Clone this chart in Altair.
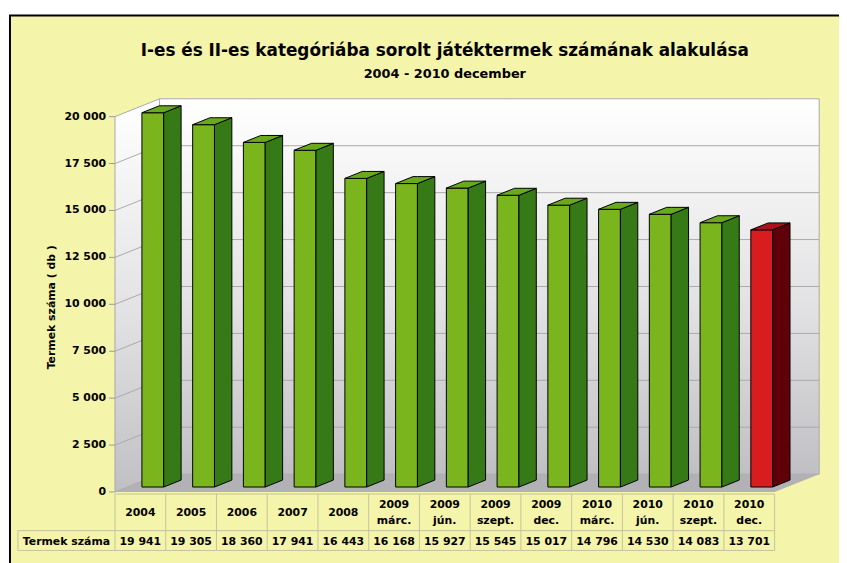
import altair as alt
import pandas as pd

# ---------------- data ----------------
categories = ["2004", "2005", "2006", "2007", "2008",
              "2009\nmárc.", "2009\njún.", "2009\nszept.", "2009\ndec.",
              "2010\nmárc.", "2010\njún.", "2010\nszept.", "2010\ndec."]
values = [19941, 19305, 18360, 17941, 16443, 16168, 15927, 15545, 15017,
          14796, 14530, 14083, 13701]
highlight = [False] * 12 + [True]
row_label = "Termek száma"
y_ticks = [0, 2500, 5000, 7500, 10000, 12500, 15000, 17500, 20000]
title_text = "I-es és II-es kategóriába sorolt játéktermek számának alakulása"
subtitle_text = "2004 - 2010 december"
y_title = "Termek száma ( db )"

# ---------------- layout / style ----------------
W, H = 666, 379
N = len(categories)
YMAX = 20000
DX = 45 / (W / N)          # depth offset in x units
DY = 18 / H * YMAX         # depth offset in y units
F1, F2 = 0.28, 0.67        # bar depth span (fraction of total depth)
BW = 0.43                  # bar width in band units
FONT = "DejaVu Sans"
BG = "#F4F4AA"
GREEN = dict(front="#7AB51E", side="#357A17", top="#69A91C")
RED = dict(front="#D81C1F", side="#600008", top="#A8121A")
GRID = "#a9a9ad"
TABLE_LINE = "#c4c29c"
LEFT_CELL = -98 * N / W


def fmt(v):
    return f"{v:,}".replace(",", " ")


xs = alt.Scale(domain=[0, N], nice=False, zero=False)
ys = alt.Scale(domain=[0, YMAX], nice=False, zero=False)


def X(f):
    return alt.X(f, type="quantitative", scale=xs, axis=None)


def Y(f):
    return alt.Y(f, type="quantitative", scale=ys, axis=None, stack=None)


# ---------------- frames ----------------
fronts, polys = [], []
for i, (v, hl) in enumerate(zip(values, highlight)):
    pal = RED if hl else GREEN
    xl = i + 0.5 - BW / 2 + F1 * DX
    xr = xl + BW
    ddx = (F2 - F1) * DX
    y0, y1 = F1 * DY, F2 * DY
    fronts.append(dict(x=xl, x2=xr, y=y0, y2=v + y0, fill=pal["front"]))
    k = f"s{i}"
    polys += [dict(key=k, x=xr, y=v + y0, y2=y0, fill=pal["side"]),
              dict(key=k, x=xr + ddx, y=v + y1, y2=y1, fill=pal["side"])]
    k = f"t{i}"
    polys += [dict(key=k, x=xl, y=v + y0, y2=v + y0, fill=pal["top"]),
              dict(key=k, x=xl + ddx, y=v + y1, y2=v + y0, fill=pal["top"]),
              dict(key=k, x=xr, y=v + y1, y2=v + y0, fill=pal["top"]),
              dict(key=k, x=xr + ddx, y=v + y1, y2=v + y1, fill=pal["top"])]
fronts = pd.DataFrame(fronts)
polys = pd.DataFrame(polys)

wall_grad = alt.Gradient(
    gradient="linear",
    stops=[alt.GradientStop(color="#ffffff", offset=0),
           alt.GradientStop(color="#e2e2e4", offset=0.55),
           alt.GradientStop(color="#c0c0c4", offset=1)],
    x1=0, x2=0, y1=0, y2=1)

back = pd.DataFrame([dict(x=DX, x2=N + DX, y=DY, y2=YMAX + DY)])
side_wall = pd.DataFrame([dict(x=0, y=YMAX, y2=0),
                          dict(x=DX, y=YMAX + DY, y2=DY)])
floor = pd.DataFrame([dict(x=0, y=0, y2=0),
                      dict(x=DX, y=DY, y2=0),
                      dict(x=N, y=DY, y2=0),
                      dict(x=N + DX, y=DY, y2=DY)])

grid_rows = []
for g in y_ticks:
    grid_rows.append(dict(x=DX, x2=N + DX, y=g + DY, y2=g + DY))
    grid_rows.append(dict(x=0, x2=DX, y=g, y2=g + DY))
grid_rows.append(dict(x=N + DX, x2=N + DX, y=DY, y2=YMAX + DY))
grid_rows.append(dict(x=DX, x2=DX, y=DY, y2=YMAX + DY))
grid_rows.append(dict(x=0, x2=0, y=0, y2=YMAX))
grid = pd.DataFrame(grid_rows)

ticks = pd.DataFrame(dict(t=y_ticks, label=[fmt(t) for t in y_ticks]))
header = pd.DataFrame(dict(x=[i + 0.5 for i in range(N)], label=categories,
                           two=[("\n" in c) for c in categories]))
vals = pd.DataFrame(dict(x=[i + 0.5 for i in range(N)], label=[fmt(v) for v in values]))
rowlab = pd.DataFrame(dict(x=[LEFT_CELL / 2], label=[row_label]))
vlines = pd.DataFrame(dict(x=list(range(N + 1))))
hl_top = pd.DataFrame(dict(x=[0], x2=[N]))
hl_rows = pd.DataFrame(dict(x=[LEFT_CELL], x2=[N]))
one = pd.DataFrame(dict(a=[0]))

# ---------------- layers ----------------
frame = alt.Chart(one).mark_rect(fill=BG, stroke="black", strokeWidth=2).encode(
    x=alt.value(-106), x2=alt.value(W + 200), y=alt.value(-102), y2=alt.value(H + 200))

floor_l = alt.Chart(floor).mark_area(fill="#b2b2b6", interpolate="linear").encode(
    x=X("x"), y=Y("y"), y2="y2")

side_l = alt.Chart(side_wall).mark_area(fill=wall_grad, interpolate="linear").encode(
    x=X("x"), y=Y("y"), y2="y2")

back_l = alt.Chart(back).mark_rect(fill=wall_grad).encode(
    x=X("x"), x2="x2", y=Y("y"), y2="y2")

grid_l = alt.Chart(grid).mark_rule(color=GRID, strokeWidth=1).encode(
    x=X("x"), x2="x2", y=Y("y"), y2="y2")

tick_l = alt.Chart(ticks).mark_rule(color="#999999").encode(
    x=alt.value(-6), x2=alt.value(0), y=Y("t"))

ylab_l = alt.Chart(ticks).mark_text(
    font=FONT, fontSize=11, fontWeight="bold", color="black",
    align="right", baseline="middle").encode(
    x=alt.value(-9), y=Y("t"), text="label:N")

ytitle_l = alt.Chart(pd.DataFrame(dict(t=[y_title]))).mark_text(
    font=FONT, fontSize=11, fontWeight="bold", color="black", angle=270,
    align="center", baseline="middle").encode(
    x=alt.value(-64), y=alt.value(H / 2 + 3), text="t:N")

front_l = alt.Chart(fronts).mark_rect(stroke="black", strokeWidth=1).encode(
    x=X("x"), x2="x2", y=Y("y"), y2="y2", fill=alt.Fill("fill:N", scale=None))

poly_l = alt.Chart(polys).mark_area(stroke="black", strokeWidth=1, interpolate="linear").encode(
    x=X("x"), y=Y("y"), y2="y2", detail="key:N",
    fill=alt.Fill("fill:N", scale=None))

vline_l = alt.Chart(vlines).mark_rule(color=TABLE_LINE).encode(
    x=X("x"), y=alt.value(H + 2), y2=alt.value(H + 59))
lcell_l = alt.Chart(one).mark_rule(color=TABLE_LINE).encode(
    x=alt.value(-98), y=alt.value(H + 39), y2=alt.value(H + 59))
htop_l = alt.Chart(hl_top).mark_rule(color=TABLE_LINE).encode(
    x=X("x"), x2="x2", y=alt.value(H + 2))
hmid_l = alt.Chart(hl_rows).mark_rule(color=TABLE_LINE).encode(
    x=X("x"), x2="x2", y=alt.value(H + 39))
hbot_l = alt.Chart(hl_rows).mark_rule(color=TABLE_LINE).encode(
    x=X("x"), x2="x2", y=alt.value(H + 59))

txt = dict(font=FONT, fontSize=11, fontWeight="bold", color="black",
           align="center", baseline="middle")
header1_l = alt.Chart(header).transform_filter("!datum.two").mark_text(**txt).encode(
    x=X("x"), y=alt.value(H + 21), text="label:N")
header2_l = alt.Chart(header).transform_filter("datum.two").mark_text(
    lineBreak="\n", lineHeight=16, **txt).encode(
    x=X("x"), y=alt.value(H + 13), text="label:N")
vals_l = alt.Chart(vals).mark_text(**txt).encode(
    x=X("x"), y=alt.value(H + 50), text="label:N")
rowlab_l = alt.Chart(rowlab).mark_text(**txt).encode(
    x=X("x"), y=alt.value(H + 50), text="label:N")

title_l = alt.Chart(pd.DataFrame(dict(t=[title_text]))).mark_text(
    font=FONT, fontSize=17, fontWeight="bold", color="black", align="center",
    baseline="middle").encode(x=alt.value(W / 2), y=alt.value(-66), text="t:N")
sub_l = alt.Chart(pd.DataFrame(dict(t=[subtitle_text]))).mark_text(
    font=FONT, fontSize=13, fontWeight="bold", color="black", align="center",
    baseline="middle").encode(x=alt.value(W / 2), y=alt.value(-43), text="t:N")

chart = alt.layer(
    frame, floor_l, side_l, back_l, grid_l, tick_l, ylab_l, ytitle_l,
    front_l, poly_l,
    vline_l, lcell_l, htop_l, hmid_l, hbot_l,
    header1_l, header2_l, vals_l, rowlab_l, title_l, sub_l,
).properties(
    width=W, height=H,
    autosize=alt.AutoSizeParams(type="none"),
    padding={"left": 108, "top": 107, "right": 65, "bottom": 69},
    background="white",
).configure_view(stroke=None)

chart.save("out.html", embed_options={"renderer": "svg", "actions": False})
